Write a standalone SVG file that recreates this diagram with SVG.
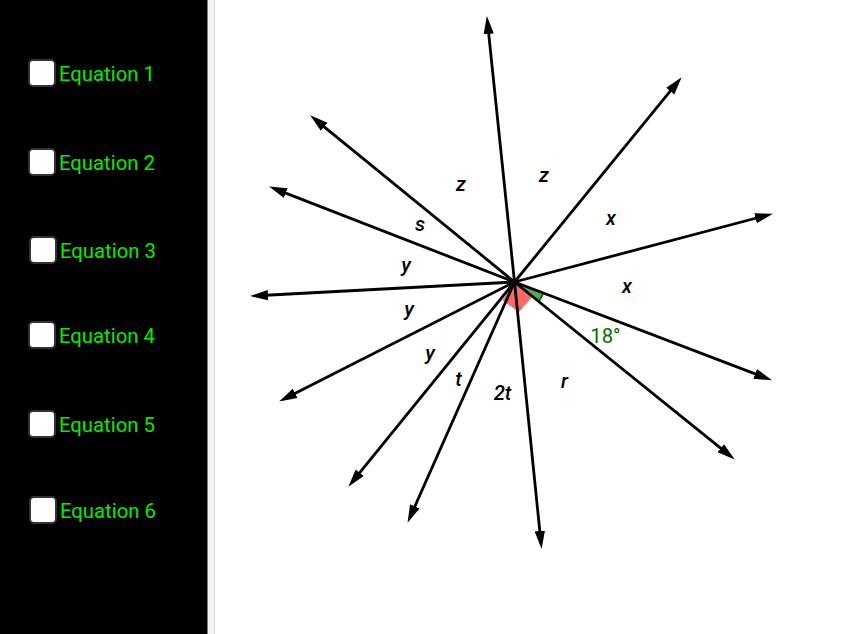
<svg xmlns="http://www.w3.org/2000/svg" width="863" height="634" viewBox="0 0 863 634">
<style>
.ray{stroke:#000;stroke-width:2.8;fill:none;marker-end:url(#arrow)}
.eq{font-family:Roboto,"Liberation Sans",sans-serif;font-size:20.3px;fill:#00ee00}
.box{fill:#fff;stroke:#333;stroke-width:2}
.lbl{font-family:Roboto,"Liberation Sans",sans-serif;font-size:20.3px;font-style:italic;font-weight:500;fill:#000;text-anchor:middle}
</style>
<defs>
<marker id="arrow" markerUnits="userSpaceOnUse" markerWidth="20" markerHeight="12" refX="7" refY="6" orient="auto">
<path d="M0 0.8L18 6L0 11.2Z" fill="#000"/>
</marker>
</defs>
<rect width="863" height="634" fill="#fff"/>
<g id="sidebar">
<rect x="207" y="0" width="7" height="634" fill="#f5f5f5"/>
<rect x="214" y="0" width="1" height="634" fill="#d6d6d6"/>
<rect width="207.500" height="634" fill="#000"/>
</g>
<g id="eq1"><rect class="box" x="29" y="60" width="26" height="26" rx="4"/><text class="eq" x="59" y="81">Equation 1</text></g>
<g id="eq2"><rect class="box" x="29" y="149" width="26" height="26" rx="4"/><text class="eq" x="59" y="170">Equation 2</text></g>
<g id="eq3"><rect class="box" x="30" y="237" width="26" height="26" rx="4"/><text class="eq" x="60" y="258">Equation 3</text></g>
<g id="eq4"><rect class="box" x="29" y="322" width="26" height="26" rx="4"/><text class="eq" x="59" y="343">Equation 4</text></g>
<g id="eq5"><rect class="box" x="29" y="411" width="26" height="26" rx="4"/><text class="eq" x="59" y="432">Equation 5</text></g>
<g id="eq6"><rect class="box" x="30" y="497" width="26" height="26" rx="4"/><text class="eq" x="60" y="518">Equation 6</text></g>
<g id="angles">
<path d="M514.500 282L502.500 300.500L519 312L532 297Z" fill="#ff6666"/>
<path d="M514.500 282L543 294L539 301Z" fill="#5fa35f"/>
<path d="M543 294L539 301" stroke="#007d00" stroke-width="2" fill="none"/>
</g>
<g id="connectors">
<line class="ray" x1="514.500" y1="282" x2="488" y2="27"/>
<line class="ray" x1="514.500" y1="282" x2="674.700" y2="85.700"/>
<line class="ray" x1="514.500" y1="282" x2="762.300" y2="216.500"/>
<line class="ray" x1="514.500" y1="282" x2="761.700" y2="376.400"/>
<line class="ray" x1="514.500" y1="282" x2="726.200" y2="452.700"/>
<line class="ray" x1="514.500" y1="282" x2="540.500" y2="538"/>
<line class="ray" x1="514.500" y1="282" x2="412" y2="512.800"/>
<line class="ray" x1="514.500" y1="282" x2="355.300" y2="478.200"/>
<line class="ray" x1="514.500" y1="282" x2="288.900" y2="396.500"/>
<line class="ray" x1="514.500" y1="282" x2="261" y2="295.500"/>
<line class="ray" x1="514.500" y1="282" x2="279.300" y2="190.600"/>
<line class="ray" x1="514.500" y1="282" x2="318.700" y2="122.300"/>
</g>
<g id="labels">
<text class="lbl" x="461" y="191">z</text>
<text class="lbl" x="544" y="182">z</text>
<text class="lbl" x="611" y="225">x</text>
<text class="lbl" x="627" y="293">x</text>
<text class="lbl" x="420" y="231">s</text>
<text class="lbl" x="406" y="272">y</text>
<text class="lbl" x="409" y="316">y</text>
<text class="lbl" x="430" y="360">y</text>
<text class="lbl" x="458.500" y="386">t</text>
<text class="lbl" x="502.500" y="400">2t</text>
<text class="lbl" x="564.500" y="388">r</text>
<text x="605.500" y="343" font-family="Roboto,'Liberation Sans',sans-serif" font-size="20.3" fill="#007000" text-anchor="middle">18°</text>
</g>
</svg>
